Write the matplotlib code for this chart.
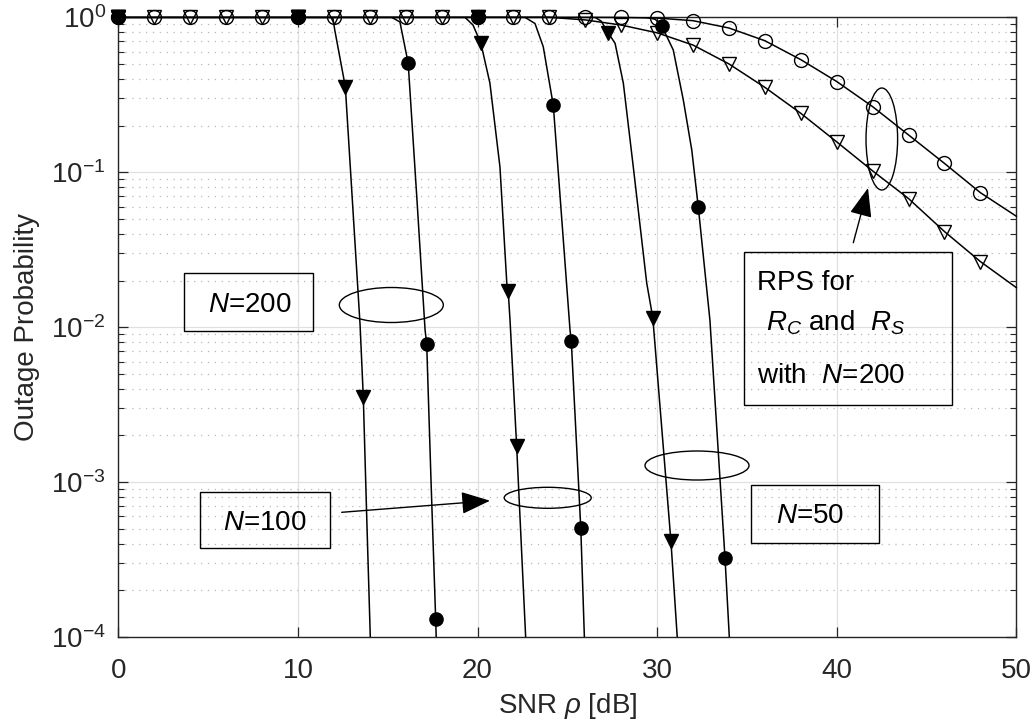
import matplotlib
matplotlib.use("Agg")
import matplotlib.pyplot as plt
from matplotlib.patches import Ellipse, Rectangle
from matplotlib.ticker import LogLocator, NullFormatter

plt.rcParams['font.family'] = ['Liberation Sans', 'DejaVu Sans']
plt.rcParams['mathtext.fontset'] = 'custom'
plt.rcParams['mathtext.rm'] = 'Liberation Sans'
plt.rcParams['mathtext.it'] = 'Liberation Sans:italic'

# ---- data (SNR in dB, outage probability) ----
# N=200, triangle curve
a_line_x = [0, 11.94, 12.05, 12.64, 13.46, 13.64, 13.83, 14.03]
a_line_p = [1, 1, 0.83, 0.356, 1.04e-2, 3.56e-3, 6.0e-4, 1.0e-4]
a_mark_x = [0, 10, 12.64, 13.64]
a_mark_p = [1, 1, 0.356, 3.56e-3]

# N=200, circle curve
b_line_x = [0, 15.22, 15.68, 16.14, 16.63, 17.08, 17.17, 17.41, 17.67, 17.70]
b_line_p = [1, 1, 0.933, 0.505, 0.066, 9.6e-3, 7.8e-3, 1.03e-3, 1.31e-4, 1.0e-4]
b_mark_x = [0, 10, 16.14, 17.17, 17.67]
b_mark_p = [1, 1, 0.505, 7.8e-3, 1.31e-4]

# N=100, triangle curve
c_line_x = [0, 19.30, 19.75, 20.19, 20.69, 21.25, 21.63, 21.71, 21.81, 22.18, 22.68]
c_line_p = [1, 1, 0.891, 0.678, 0.376, 0.108, 0.0193, 0.017, 0.0111, 1.7e-3, 1.0e-4]
c_mark_x = [0, 10, 20.19, 21.71, 22.18]
c_mark_p = [1, 1, 0.678, 0.017, 1.7e-3]

# N=100, circle curve
d_line_x = [0, 22.64, 23.20, 23.66, 24.22, 25.15, 25.22, 25.75, 25.95]
d_line_p = [1, 1, 0.912, 0.646, 0.270, 9.6e-3, 8.17e-3, 5.05e-4, 1.0e-4]
d_mark_x = [0, 10, 20, 24.22, 25.22, 25.75]
d_mark_p = [1, 1, 1, 0.270, 8.17e-3, 5.05e-4]

# N=50, triangle curve
e_line_x = [0, 26.54, 26.88, 27.28, 27.66, 28.12, 28.67, 29.42, 29.76, 30.77, 31.12]
e_line_p = [1, 1, 0.946, 0.793, 0.679, 0.375, 0.109, 0.0193, 0.0115, 4.14e-4, 1.0e-4]
e_mark_x = [0, 10, 20, 27.28, 29.76, 30.77]
e_mark_p = [1, 1, 1, 0.793, 0.0115, 4.14e-4]

# N=50, circle curve
f_line_x = [0, 29.40, 29.90, 30.26, 30.90, 31.46, 31.93, 32.29, 32.94, 33.78, 34.02]
f_line_p = [1, 1, 0.97, 0.879, 0.615, 0.292, 0.139, 0.060, 0.0111, 3.24e-4, 1.0e-4]
f_mark_x = [0, 10, 20, 30.26, 32.29, 33.78]
f_mark_p = [1, 1, 1, 0.879, 0.060, 3.24e-4]

# RPS curves with N=200
rps_x = [0, 2, 4, 6, 8, 10, 12, 14, 16, 18, 20, 22, 24, 26,
         28, 30, 32, 34, 36, 38, 40, 42, 44, 46, 48, 50]
rc_p = [1, 1, 1, 1, 1, 1, 1, 1, 1, 1, 1, 1, 1, 1,
        0.998, 0.989, 0.951, 0.853, 0.706, 0.533, 0.385, 0.265, 0.174, 0.114, 0.0738, 0.052]
rs_p = [1, 1, 1, 1, 1, 1, 1, 1, 1, 1, 1, 1, 1, 0.962,
        0.891, 0.794, 0.662, 0.500, 0.353, 0.240, 0.157, 0.102, 0.0676, 0.0414, 0.0265, 0.0180]

x_ticks = [0, 10, 20, 30, 40, 50]

# ---- figure ----
fig = plt.figure(figsize=(10.36, 7.21), dpi=100)
ax = fig.add_axes([0.1142, 0.1165, 0.8668, 0.8595])
ax.set_yscale('log')

curves = [
    (a_line_x, a_line_p, a_mark_x, a_mark_p, 'v'),
    (b_line_x, b_line_p, b_mark_x, b_mark_p, 'o'),
    (c_line_x, c_line_p, c_mark_x, c_mark_p, 'v'),
    (d_line_x, d_line_p, d_mark_x, d_mark_p, 'o'),
    (e_line_x, e_line_p, e_mark_x, e_mark_p, 'v'),
    (f_line_x, f_line_p, f_mark_x, f_mark_p, 'o'),
]
for lx, lp, mx, mp, m in curves:
    ax.plot(lx, lp, color='k', lw=1.1, zorder=3)
    ax.plot(mx, mp, ls='none', marker=m, color='k', ms=9.5, clip_on=False, zorder=4)

ax.plot(rps_x, rc_p, color='k', lw=1.1, marker='o', mfc='none', mec='k', ms=10,
        mew=1.0, markevery=slice(0, 25), clip_on=False, zorder=3)
ax.plot(rps_x, rs_p, color='k', lw=1.1, marker='v', mfc='none', mec='k', ms=10,
        mew=1.0, markevery=slice(0, 25), clip_on=False, zorder=3)

ax.set_xlim(0, 50)
ax.set_ylim(1e-4, 1)
ax.set_xticks(x_ticks)
ax.yaxis.set_major_locator(LogLocator(base=10, numticks=10))
ax.yaxis.set_minor_locator(LogLocator(base=10, subs=range(2, 10), numticks=20))
ax.yaxis.set_minor_formatter(NullFormatter())

ax.grid(True, which='major', color='#e0e0e0', lw=0.9, ls='-')
ax.yaxis.grid(True, which='minor', color='#b8b8b8', lw=0.9, ls=(0, (1, 4.5)))
ax.set_axisbelow(True)

for s in ax.spines.values():
    s.set_color('#262626')
    s.set_linewidth(1.0)
ax.tick_params(which='both', direction='in', top=True, right=True,
               color='#262626', labelcolor='#262626', labelsize=20)
ax.tick_params(which='major', length=7, width=0.9)
ax.tick_params(which='minor', length=4.5, width=0.8)
ax.tick_params(axis='x', pad=15)
ax.tick_params(axis='y', pad=9)

ax.set_xlabel(r'SNR $\rho$ [dB]', fontsize=20, color='#262626', labelpad=5.5)
ax.set_ylabel('Outage Probability', fontsize=20, color='#262626', labelpad=8)


# ---- annotations (placed in pixel-derived axes fractions) ----
def frac(px, py):
    return ((px - 118.3) / 898.0, (637.0 - py) / 619.7)


def ellipse(cx, cy, w, h):
    ax.add_patch(Ellipse(frac(cx, cy), w / 898.0, h / 619.7, transform=ax.transAxes,
                         fill=False, ec='k', lw=1.0, zorder=5, clip_on=False))


def box(x0, y0, x1, y1):
    ax.add_patch(Rectangle(frac(x0, y1), (x1 - x0) / 898.0, (y1 - y0) / 619.7,
                           transform=ax.transAxes, fill=False, ec='k', lw=1.0,
                           zorder=5, clip_on=False))


def label(px, py, s, ha='center'):
    ax.text(*frac(px, py), s, transform=ax.transAxes, ha=ha, va='baseline',
            fontsize=20, color='k', zorder=6)


def arrow(x0, y0, x1, y1):
    ax.annotate('', xy=frac(x1, y1), xytext=frac(x0, y0), xycoords='axes fraction',
                textcoords='axes fraction',
                arrowprops=dict(arrowstyle='-|>,head_length=0.9,head_width=0.35',
                                color='k', lw=1.0, shrinkA=0, shrinkB=0,
                                mutation_scale=20), zorder=6)


ellipse(391.3, 305.0, 104, 35)
ellipse(547.7, 497.8, 87, 21)
ellipse(697.0, 465.5, 104, 29)
ellipse(881.8, 139.0, 31.6, 102)

box(184.3, 273.3, 313.3, 331.0)
label(250, 311.7, r'$N$=200')
box(200.0, 491.7, 330.0, 548.0)
label(265, 530.0, r'$N$=100')
box(750.7, 485.0, 879.0, 542.7)
label(810, 522.7, r'$N$=50')

box(744.3, 251.7, 952.3, 405.0)
label(757.3, 290.0, 'RPS for', ha='left')
label(766.0, 330.7, r'$R_C$ and  $R_S$', ha='left')
label(757.3, 382.7, r'with  $N$=200', ha='left')

arrow(341.7, 512.3, 490.0, 500.7)
arrow(853.3, 242.7, 868.0, 188.0)

fig.savefig('out.png', dpi=100)
